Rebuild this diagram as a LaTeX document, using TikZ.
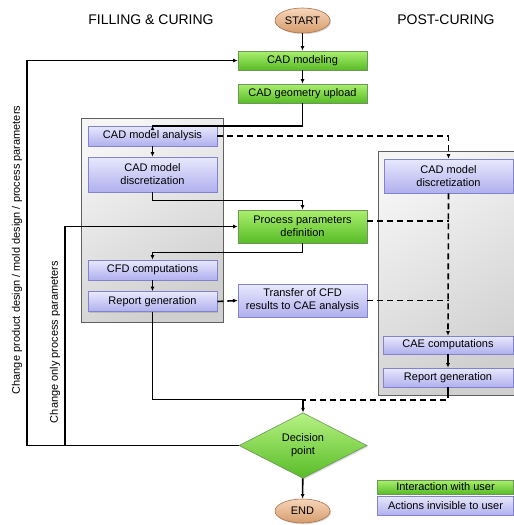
\documentclass[tikz,border=0pt]{standalone}
\usepackage{fontspec}
\setmainfont{Liberation Sans}
\usetikzlibrary{shapes.geometric,arrows.meta,shadows,calc}
\definecolor{gtop}{RGB}{170,240,110}
\definecolor{gbot}{RGB}{88,188,38}
\definecolor{gbord}{RGB}{110,150,90}
\definecolor{ptop}{RGB}{232,232,253}
\definecolor{pbot}{RGB}{176,176,238}
\definecolor{pbord}{RGB}{130,130,205}
\definecolor{otop}{RGB}{246,214,186}
\definecolor{obot}{RGB}{214,156,108}
\definecolor{obord}{RGB}{170,115,75}
\tikzset{
  boxfont/.style={font=\fontsize{11}{13}\selectfont},
  shadowed/.style={drop shadow={shadow xshift=1.2pt,shadow yshift=-1.2pt,opacity=0.3}},
  greenbox/.style={rectangle,draw=gbord,line width=0.6pt,top color=gtop,bottom color=gbot,boxfont,align=center,inner sep=0pt,shadowed},
  purplebox/.style={rectangle,draw=pbord,line width=0.6pt,top color=ptop,bottom color=pbot,boxfont,align=center,inner sep=0pt,shadowed},
  term/.style={ellipse,draw=obord,line width=0.6pt,top color=otop,bottom color=obot,boxfont,inner sep=0pt,minimum width=55pt,minimum height=25pt,shadowed},
  panel/.style={rectangle,draw=gray!75!black,line width=0.8pt,top color=gray!8,bottom color=gray!38,shading angle=30},
  flow/.style={line width=1.6pt,-{Latex[length=4.5pt,width=4pt]}},
  flowline/.style={line width=1.6pt},
  dflow/.style={line width=1.6pt,dash pattern=on 6pt off 4pt,-{Latex[length=4.5pt,width=4pt]}},
  dline/.style={line width=1.6pt,dash pattern=on 6pt off 4pt},
  title/.style={font=\fontsize{14}{16}\selectfont},
  sidetext/.style={font=\fontsize{11}{12}\selectfont,rotate=90},
}
\begin{document}
\begin{tikzpicture}[x=1pt,y=-1pt]
\useasboundingbox (0,0) rectangle (514,525);
% panels
\node[panel,minimum width=142pt,minimum height=204pt,inner sep=0pt] (panelL) at (152,220) {};
\node[panel,minimum width=136pt,minimum height=244pt,inner sep=0pt] (panelR) at (446,273) {};
% titles
\node[title] (t1) at (151,20) {FILLING \& CURING};
\node[title] (t2) at (446,20) {POST-CURING};
% nodes
\node[term] (start) at (302.5,20.5) {START};
\node[greenbox,minimum width=129pt,minimum height=19pt] (cadmod) at (302.5,60.5) {CAD modeling};
\node[greenbox,minimum width=129pt,minimum height=19pt] (cadgeo) at (302.5,93.5) {CAD geometry upload};
\node[purplebox,minimum width=129pt,minimum height=20pt] (cadan) at (152.5,136) {CAD model analysis};
\node[purplebox,minimum width=129pt,minimum height=35pt] (caddisc) at (152.5,174.5) {CAD model\\discretization};
\node[greenbox,minimum width=129pt,minimum height=33pt] (ppd) at (302.5,226.5) {Process parameters\\definition};
\node[purplebox,minimum width=129pt,minimum height=20pt] (cfd) at (152.5,270) {CFD computations};
\node[purplebox,minimum width=129pt,minimum height=20pt] (rep) at (152.5,301.5) {Report generation};
\node[purplebox,minimum width=129pt,minimum height=33pt] (trans) at (302.5,300.5) {Transfer of CFD\\results to CAE analysis};
\node[purplebox,minimum width=129pt,minimum height=34pt] (rdisc) at (448.5,176) {CAD model\\discretization};
\node[purplebox,minimum width=130pt,minimum height=18pt] (cae) at (448,345) {CAE computations};
\node[purplebox,minimum width=130pt,minimum height=19pt] (rrep) at (448,377.5) {Report generation};
\node[diamond,draw=gbord,line width=0.6pt,top color=gtop!85!white,bottom color=gbot,boxfont,align=center,inner sep=0pt,minimum width=128pt,minimum height=65pt,shadowed] (dec) at (303,445.5) {Decision\\point};
\node[term,minimum height=24pt] (end) at (302.5,511) {END};
\node[greenbox,minimum width=136pt,minimum height=14pt] (leg1) at (445.5,487) {Interaction with user};
\node[purplebox,minimum width=136pt,minimum height=19pt] (leg2) at (445.5,505.5) {Actions invisible to user};
% side texts
\node[sidetext] (s1) at (17,250) {Change product design / mold design / process parameters};
\node[sidetext] (s2) at (55,342) {Change only process parameters};
% coordinates
\coordinate (j1) at (27,445.5);
\coordinate (j2) at (65,445.5);
\coordinate (m1) at (448.5,400);
% solid flow
\draw[flow] (start) -- (cadmod);
\draw[flow] (cadmod) -- (cadgeo);
\draw[flow] (cadgeo.south) -- ++(0,22.5) -| (cadan.north);
\draw[flow] (cadan) -- (caddisc);
\draw[flow] (caddisc.south) -- ++(0,8) -| (ppd.north);
\draw[flow] (ppd.south) -- ++(0,9) -| (cfd.north);
\draw[flow] (cfd) -- (rep);
\draw[flow] (rep.south) |- ($(dec.north)+(0,-13)$) -- (dec.north);
\draw[flow] (cae) -- (rrep);
\draw[flow] (dec) -- (end);
\draw[flow] (dec.west) -- (j1) |- (cadmod.west);
\draw[flow] (j2) |- (ppd.west);
% dashed flow
\draw[dflow] (rep.east) -- (trans.west);
\draw[dflow] (cadan.east) -| (rdisc.north);
\draw[dflow] (rdisc.south) -- (cae.north);
\draw[dline] ([yshift=5.5pt]ppd.east) -- ([yshift=5.5pt]ppd.east -| rdisc.south);
\draw[dline] (trans.east) -- (trans.east -| rdisc.south);
\draw[flowline] (rrep.south) -- ++(0,5);
\draw[dline] ($(rrep.south)+(0,5)$) |- (dec.north |- m1);
\end{tikzpicture}
\end{document}
